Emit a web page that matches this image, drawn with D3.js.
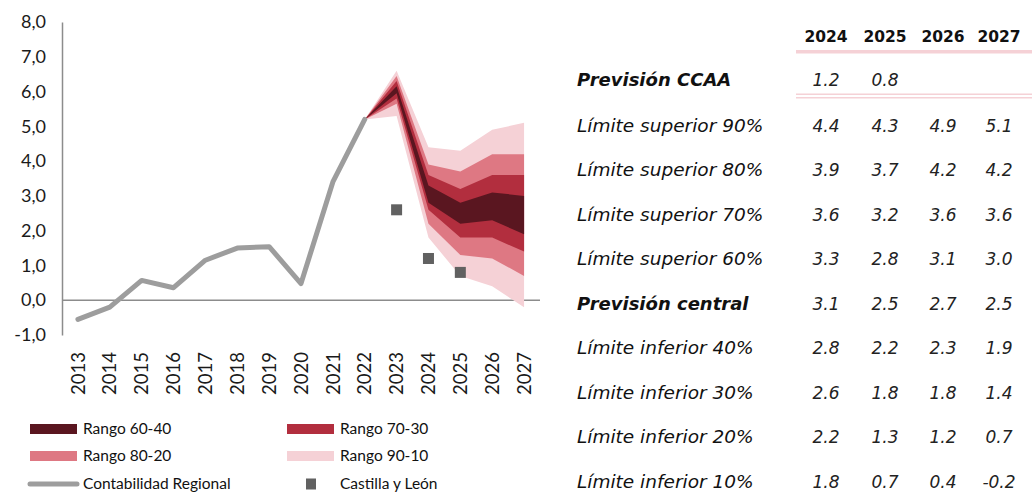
<!DOCTYPE html>
<html>
<head>
<meta charset="utf-8">
<script src="https://cdn.jsdelivr.net/npm/d3@7"></script>
<style>
  body { margin: 0; background: #fff; }
  svg { display: block; }
</style>
</head>
<body>
<svg id="chart" width="1032" height="492"></svg>
<script>
// data
const YEARS = d3.range(2013, 2028)
const Y_TICKS = d3.range(-1, 9)
const REGIONAL_YEARS = d3.range(2013, 2023)
const REGIONAL = [-0.55, -0.2, 0.57, 0.36, 1.15, 1.5, 1.54, 0.48, 3.4, 5.2]
const FAN_YEARS = [2022, 2023, 2024, 2025, 2026, 2027]
const SUP90 = [5.2, 6.6, 4.4, 4.3, 4.9, 5.1]
const SUP80 = [5.2, 6.45, 3.9, 3.7, 4.2, 4.2]
const SUP70 = [5.2, 6.3, 3.6, 3.2, 3.6, 3.6]
const SUP60 = [5.2, 6.15, 3.3, 2.8, 3.1, 3.0]
const CENTRAL = [5.2, 6.05, 3.1, 2.5, 2.7, 2.5]
const INF40 = [5.2, 5.95, 2.8, 2.2, 2.3, 1.9]
const INF30 = [5.2, 5.8, 2.6, 1.8, 1.8, 1.4]
const INF20 = [5.2, 5.65, 2.2, 1.3, 1.2, 0.7]
const INF10 = [5.2, 5.3, 1.8, 0.7, 0.4, -0.2]
const CYL_YEARS = [2023, 2024, 2025]
const CYL = [2.6, 1.2, 0.8]
const TABLE_YEARS = [2024, 2025, 2026, 2027]
const CCAA = [1.2, 0.8]

const COLORS = { r6040: '#5a1620', r7030: '#b22e3e', r8020: '#de7883', r9010: '#f5d1d6', line: '#9d9d9d', cyl: '#616161', axis: '#8c8c8c' }
const FONT = 'Lato, sans-serif'
const TFONT = '"DejaVu Sans", sans-serif'

// plain hyphen as minus sign, like the original
let esFmt = d3.formatLocale({ decimal: ',', thousands: '.', grouping: [3], currency: ['', '€'], minus: '-' }).format('.1f')
let enFmt = d3.formatLocale({ decimal: '.', thousands: ',', grouping: [3], currency: ['', ''], minus: '-' }).format('.1f')

let svg = d3.select('#chart')

let x = d3.scaleBand().domain(YEARS).range([62, 540])
let cx = (yr) => x(yr) + x.bandwidth() / 2
let y = d3.scaleLinear().domain([-1, 8]).range([335, 22])

// axes
let yAxis = svg.append('g').attr('transform', 'translate(62,0)')
  .call(d3.axisLeft(y).tickValues(Y_TICKS).tickSize(0).tickPadding(16).tickFormat(esFmt))
yAxis.select('.domain').attr('stroke', COLORS.axis).attr('stroke-width', 1.5)
yAxis.selectAll('.tick text').style('font-family', FONT).style('font-size', '18px').attr('fill', '#1a1a1a')

svg.append('line')
  .attr('x1', 62).attr('x2', 540).attr('y1', y(0)).attr('y2', y(0))
  .attr('stroke', COLORS.axis).attr('stroke-width', 1.5)

svg.append('g').selectAll('text').data(YEARS).join('text')
  .attr('transform', d => `translate(${cx(d)},352) rotate(-90)`)
  .attr('text-anchor', 'end')
  .attr('dy', '0.36em')
  .style('font-family', FONT).style('font-size', '18.5px').attr('fill', '#1a1a1a')
  .text(d => d)

// fan bands
let bands = [
  { lo: INF10, hi: SUP90, color: COLORS.r9010 },
  { lo: INF20, hi: SUP80, color: COLORS.r8020 },
  { lo: INF30, hi: SUP70, color: COLORS.r7030 },
  { lo: INF40, hi: SUP60, color: COLORS.r6040 }
]
let area = d3.area()
  .x((d, i) => cx(FAN_YEARS[i]))
  .y0(d => y(d[0]))
  .y1(d => y(d[1]))
svg.append('g').selectAll('path').data(bands).join('path')
  .attr('d', b => area(b.lo.map((v, i) => [v, b.hi[i]])))
  .attr('fill', b => b.color)

// regional accounts line
let line = d3.line()
  .x((d, i) => cx(REGIONAL_YEARS[i]))
  .y(d => y(d))
svg.append('path')
  .attr('d', line(REGIONAL))
  .attr('fill', 'none').attr('stroke', COLORS.line).attr('stroke-width', 5)
  .attr('stroke-linejoin', 'round').attr('stroke-linecap', 'round')

// Castilla y León
svg.append('g').selectAll('rect').data(CYL).join('rect')
  .attr('x', (d, i) => cx(CYL_YEARS[i]) - 5.5)
  .attr('y', d => y(d) - 5.5)
  .attr('width', 11).attr('height', 11)
  .attr('fill', COLORS.cyl)

// legend
let legendItems = [
  { label: 'Rango 60-40', color: COLORS.r6040, x: 30, y: 429, kind: 'band' },
  { label: 'Rango 70-30', color: COLORS.r7030, x: 287, y: 429, kind: 'band' },
  { label: 'Rango 80-20', color: COLORS.r8020, x: 30, y: 456, kind: 'band' },
  { label: 'Rango 90-10', color: COLORS.r9010, x: 287, y: 456, kind: 'band' },
  { label: 'Contabilidad Regional', color: COLORS.line, x: 30, y: 484, kind: 'line' },
  { label: 'Castilla y León', color: COLORS.cyl, x: 287, y: 484, kind: 'square' }
]
let lg = svg.append('g').selectAll('g').data(legendItems).join('g')
  .attr('transform', d => `translate(${d.x},${d.y})`)
lg.filter(d => d.kind === 'band').append('rect')
  .attr('x', 0).attr('y', -5).attr('width', 47).attr('height', 10).attr('fill', d => d.color)
lg.filter(d => d.kind === 'line').append('line')
  .attr('x1', 0).attr('x2', 47).attr('stroke', d => d.color).attr('stroke-width', 5).attr('stroke-linecap', 'round')
lg.filter(d => d.kind === 'square').append('rect')
  .attr('x', 19).attr('y', -5.5).attr('width', 10).attr('height', 11).attr('fill', d => d.color)
lg.append('text')
  .attr('x', 53).attr('dy', '0.35em')
  .style('font-family', FONT).style('font-size', '15.5px').attr('fill', '#111')
  .text(d => d.label)

// table
const COL_X = [826, 885, 943, 999]
let table = svg.append('g')
table.selectAll('.head').data(TABLE_YEARS).join('text')
  .attr('class', 'head')
  .attr('x', (d, i) => COL_X[i]).attr('y', 42)
  .attr('text-anchor', 'middle')
  .style('font-family', TFONT).style('font-size', '15.5px').style('font-weight', 'bold').attr('fill', '#111')
  .text(d => d)
table.append('rect').attr('x', 796).attr('y', 50).attr('width', 236).attr('height', 3.5).attr('fill', COLORS.r9010)
table.append('rect').attr('x', 796).attr('y', 93.5).attr('width', 236).attr('height', 1.5).attr('fill', COLORS.r9010)
table.append('rect').attr('x', 796).attr('y', 97).attr('width', 236).attr('height', 1.5).attr('fill', COLORS.r9010)

let rows = [
  { label: 'Previsión CCAA', values: CCAA, bold: true, y: 86 },
  { label: 'Límite superior 90%', values: SUP90.slice(2) },
  { label: 'Límite superior 80%', values: SUP80.slice(2) },
  { label: 'Límite superior 70%', values: SUP70.slice(2) },
  { label: 'Límite superior 60%', values: SUP60.slice(2) },
  { label: 'Previsión central', values: CENTRAL.slice(2), bold: true },
  { label: 'Límite inferior 40%', values: INF40.slice(2) },
  { label: 'Límite inferior 30%', values: INF30.slice(2) },
  { label: 'Límite inferior 20%', values: INF20.slice(2) },
  { label: 'Límite inferior 10%', values: INF10.slice(2) }
]
rows.forEach((r, i) => { if (i > 0) r.y = 131.5 + (i - 1) * 44.5 })

let rg = table.selectAll('.row').data(rows).join('g')
  .attr('class', 'row')
  .attr('transform', d => `translate(0,${d.y})`)
rg.append('text')
  .attr('x', 577)
  .style('font-family', TFONT).style('font-size', d => d.bold ? '18px' : '18.5px').style('font-style', 'italic')
  .style('font-weight', d => d.bold ? 'bold' : 'normal')
  .attr('fill', '#111')
  .text(d => d.label)
rg.selectAll('.val').data(d => d.values).join('text')
  .attr('class', 'val')
  .attr('x', (d, i) => COL_X[i])
  .attr('text-anchor', 'middle')
  .style('font-family', TFONT).style('font-size', '17px').style('font-style', 'italic')
  .attr('fill', '#222')
  .text(d => enFmt(d))
</script>
</body>
</html>
